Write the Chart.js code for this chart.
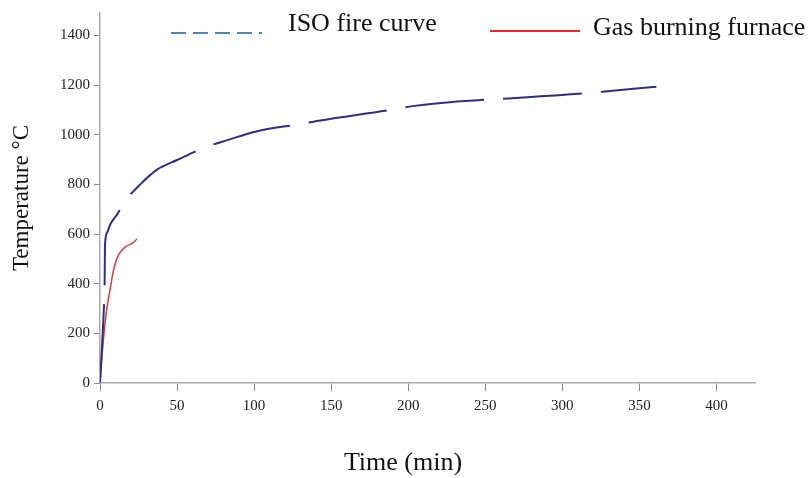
<!DOCTYPE html>
<html>
<head>
<meta charset="utf-8">
<script src="https://cdn.jsdelivr.net/npm/chart.js@4.4.1/dist/chart.umd.min.js"></script>
<style>
  body { margin: 0; background: #fff; }
  canvas { display: block; }
</style>
</head>
<body>
<canvas id="fire-chart" width="812" height="478"></canvas>
<script>
// ISO 834 standard fire curve
var isoTime = [0, 2.5, 3, 3.2, 4.5, 6.5, 11, 17, 26, 37, 50, 69, 82, 102, 130, 143, 190, 203, 227, 252, 265, 314, 326, 361];
var isoTemp = [0, 300, 395, 550, 604, 637, 678, 738, 799, 859, 898, 951, 977, 1014, 1043, 1057, 1101, 1115, 1131, 1142, 1146, 1166, 1173, 1193];

// gas burning furnace measurement
var gasTime = [0, 2, 4.3, 6.5, 8.6, 12, 17, 21, 24];
var gasTemp = [0, 160, 294, 375, 449, 516, 550, 563, 580];

var xTicks = [0, 50, 100, 150, 200, 250, 300, 350, 400];
var yTicks = [0, 200, 400, 600, 800, 1000, 1200, 1400];

var seriesNames = ["ISO fire curve", "Gas burning furnace"];
var xTitle = "Time (min)";
var yTitle = "Temperature °C";

function toPoints(xs, ys) {
    var pts = [];
    for (var i = 0; i < xs.length; i++)
        pts.push({ x: xs[i], y: ys[i] });
    return pts;
}

var serif = '"Liberation Serif", "Times New Roman", serif';

// legend + x title drawn by hand, like the original figure
var decorPlugin = {
    id: "decor",
    afterDraw: function(chart) {
        var ctx = chart.ctx;
        ctx.save();
        ctx.lineWidth = 2;
        ctx.strokeStyle = "#4f81bd";
        ctx.setLineDash([15, 7]);
        ctx.beginPath();
        ctx.moveTo(171, 33);
        ctx.lineTo(262, 33);
        ctx.stroke();
        ctx.setLineDash([]);
        ctx.strokeStyle = "#e8262a";
        ctx.beginPath();
        ctx.moveTo(490, 31);
        ctx.lineTo(580, 31);
        ctx.stroke();

        ctx.fillStyle = "#111";
        ctx.font = "26px " + serif;
        ctx.textAlign = "left";
        ctx.textBaseline = "alphabetic";
        ctx.fillText(seriesNames[0], 288, 31);
        ctx.fillText(seriesNames[1], 593, 35);

        ctx.textAlign = "center";
        ctx.textBaseline = "middle";
        ctx.fillText(xTitle, 403, 463);
        ctx.restore();
    }
};

var chartCanvas = document.getElementById("fire-chart");

new Chart(chartCanvas, {
    type: "line",
    data: {
        datasets: [
            {
                label: seriesNames[0],
                data: toPoints(isoTime, isoTemp),
                borderColor: "#2f2f82",
                borderWidth: 2,
                borderDash: [79, 19],
                pointRadius: 0,
                cubicInterpolationMode: "monotone",
                fill: false
            },
            {
                label: seriesNames[1],
                data: toPoints(gasTime, gasTemp),
                borderColor: "#c8404a",
                borderWidth: 1.5,
                pointRadius: 0,
                cubicInterpolationMode: "monotone",
                fill: false
            }
        ]
    },
    plugins: [decorPlugin],
    options: {
        responsive: false,
        animation: false,
        layout: { padding: { left: 0, right: 57, top: 13, bottom: 0 } },
        plugins: {
            legend: { display: false },
            tooltip: { enabled: false }
        },
        scales: {
            x: {
                type: "linear",
                min: 0,
                max: 425,
                afterBuildTicks: function(scale) {
                    scale.ticks = xTicks.map(function(v) { return { value: v }; });
                },
                afterFit: function(scale) { scale.height = 95; },
                grid: {
                    drawOnChartArea: false,
                    drawTicks: true,
                    tickLength: 8,
                    color: "#888"
                },
                border: { color: "#aaa", width: 1.5 },
                ticks: {
                    maxRotation: 0,
                    autoSkip: false,
                    padding: 6,
                    color: "#222",
                    font: { family: serif, size: 15 },
                    callback: function(v) { return String(v); }
                }
            },
            y: {
                min: 0,
                max: 1490,
                afterBuildTicks: function(scale) {
                    scale.ticks = yTicks.map(function(v) { return { value: v }; });
                },
                afterFit: function(scale) { scale.width = 100; },
                grid: {
                    drawOnChartArea: false,
                    drawTicks: true,
                    tickLength: 6,
                    color: "#888"
                },
                border: { color: "#aaa", width: 1.5 },
                ticks: {
                    autoSkip: false,
                    padding: 4,
                    color: "#222",
                    font: { family: serif, size: 15 },
                    callback: function(v) { return String(v); }
                },
                title: {
                    display: true,
                    text: yTitle,
                    color: "#111",
                    padding: { top: 8, bottom: 0 },
                    font: { family: serif, size: 23 }
                }
            }
        }
    }
});
</script>
</body>
</html>
